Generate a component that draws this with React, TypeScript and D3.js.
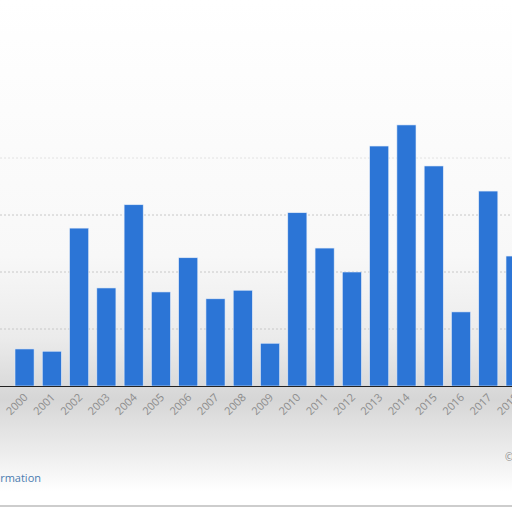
import React, { useEffect, useRef } from 'react';
import * as d3 from 'd3';

const years = ['2000', '2001', '2002', '2003', '2004', '2005', '2006', '2007', '2008', '2009',
  '2010', '2011', '2012', '2013', '2014', '2015', '2016', '2017', '2018'];
const values = [0.65, 0.61, 2.77, 1.72, 3.18, 1.65, 2.25, 1.53, 1.68, 0.75,
  3.04, 2.42, 2.0, 4.21, 4.58, 3.86, 1.3, 3.42, 2.28];
const gridTicks = [1, 2, 3, 4];

const App: React.FC = () => {
  const svgRef = useRef<SVGSVGElement>(null);

  useEffect(() => {
    if (!svgRef.current) return;
    const width = 512;
    const height = 512;
    const svg = d3.select(svgRef.current);
    svg.selectAll('*').remove();

    const x = d3.scaleBand<string>()
      .domain(years)
      .range([10.9, 529.2])
      .paddingInner(0.3)
      .paddingOuter(0.15);

    const y = d3.scaleLinear()
      .domain([0, 5])
      .range([386, 101]);

    // background smudges
    const defs = svg.append('defs');
    const bg = defs.append('linearGradient')
      .attr('id', 'bg-grad')
      .attr('x1', '0%').attr('y1', '0%')
      .attr('x2', '0%').attr('y2', '100%');
    bg.append('stop').attr('offset', '0%').attr('stop-color', '#ffffff');
    bg.append('stop').attr('offset', '50%').attr('stop-color', '#f8f8f8');
    bg.append('stop').attr('offset', '66%').attr('stop-color', '#ebebeb');
    bg.append('stop').attr('offset', '78%').attr('stop-color', '#d6d6d6');
    bg.append('stop').attr('offset', '89%').attr('stop-color', '#eeeeee');
    bg.append('stop').attr('offset', '96%').attr('stop-color', '#ffffff');

    svg.append('rect')
      .attr('width', width)
      .attr('height', height)
      .attr('fill', 'url(#bg-grad)');

    // gridlines
    svg.append('g')
      .selectAll('line')
      .data(gridTicks)
      .join('line')
      .attr('x1', 0)
      .attr('x2', width)
      .attr('y1', d => y(d))
      .attr('y2', d => y(d))
      .attr('stroke', d => (d === 4 ? '#e2e2e2' : '#c8c8c8'))
      .attr('stroke-width', 1)
      .attr('stroke-dasharray', '2,2');

    // bars
    svg.append('g')
      .selectAll('rect')
      .data(values)
      .join('rect')
      .attr('x', (_, i) => x(years[i]) as number)
      .attr('y', d => y(d))
      .attr('width', x.bandwidth())
      .attr('height', d => y(0) - y(d))
      .attr('fill', '#2c75d6')
      .attr('stroke', '#e3ecf8')
      .attr('stroke-width', 0.6);

    // baseline
    svg.append('line')
      .attr('x1', 0)
      .attr('x2', width)
      .attr('y1', y(0) + 0.5)
      .attr('y2', y(0) + 0.5)
      .attr('stroke', '#222')
      .attr('stroke-width', 1);

    // x labels
    svg.append('g')
      .selectAll('text')
      .data(years)
      .join('text')
      .attr('transform', d => `translate(${(x(d) as number) + x.bandwidth() / 2 + 4}, ${y(0) + 12}) rotate(-45)`)
      .attr('text-anchor', 'end')
      .attr('fill', '#8c8c8c')
      .attr('font-family', 'Open Sans, sans-serif')
      .attr('font-size', 11)
      .text(d => d);

    svg.append('text')
      .attr('x', 41)
      .attr('y', 482)
      .attr('text-anchor', 'end')
      .attr('fill', '#4a7cb0')
      .attr('font-family', 'Open Sans, sans-serif')
      .attr('font-size', 11)
      .text('Additional Information');

    svg.append('text')
      .attr('x', 505)
      .attr('y', 461)
      .attr('fill', '#8a8a8a')
      .attr('font-family', 'Open Sans, sans-serif')
      .attr('font-size', 10)
      .text('©');

    svg.append('line')
      .attr('x1', 0)
      .attr('x2', width)
      .attr('y1', 506)
      .attr('y2', 506)
      .attr('stroke', '#bdbdbd')
      .attr('stroke-width', 1.5);
  }, []);

  return (
    <svg
      ref={svgRef}
      width={512}
      height={512}
      style={{ position: 'fixed', left: 0, top: 0, display: 'block' }}
    />
  );
};

export default App;
